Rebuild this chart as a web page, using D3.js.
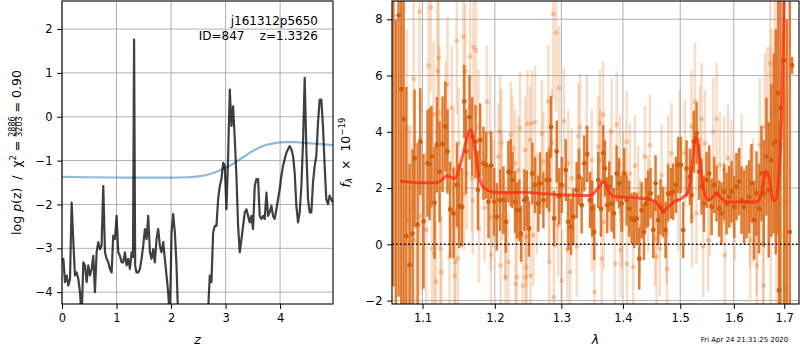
<!DOCTYPE html>
<html>
<head>
<meta charset="utf-8">
<script src="https://cdn.jsdelivr.net/npm/d3@7"></script>
<style>
  body { margin: 0; background: #fff; }
  svg text { font-family: "DejaVu Sans", sans-serif; fill: #000; }
</style>
</head>
<body>
<svg id="fig" width="800" height="350"></svg>
<script>
// ---------------- redshift probability panel ----------------
const zGrid = [0.010,0.025,0.055,0.086,0.116,0.147,0.177,0.208,0.238,0.269,0.299,0.330,0.360,0.391,0.421,0.452,0.482,0.513,0.543,0.574,0.604,0.635,0.665,0.696,0.726,0.757,0.788,0.818,0.849,0.879,0.910,0.940,0.971,1.001,1.032,1.062,1.093,1.123,1.154,1.184,1.215,1.245,1.276,1.302,1.322,1.342,1.367,1.398,1.429,1.459,1.490,1.520,1.551,1.581,1.612,1.642,1.673,1.703,1.734,1.764,1.795,1.825,1.856,1.886,1.917,1.947,1.978,2.009,2.039,2.070,2.100,2.131,2.200,2.400,2.600,2.680,2.711,2.741,2.772,2.802,2.833,2.863,2.894,2.924,2.955,2.985,3.016,3.047,3.077,3.108,3.138,3.169,3.199,3.230,3.260,3.291,3.321,3.352,3.382,3.413,3.443,3.474,3.504,3.535,3.565,3.596,3.626,3.657,3.688,3.718,3.749,3.779,3.810,3.840,3.871,3.901,3.932,3.962,3.993,4.023,4.054,4.084,4.115,4.145,4.176,4.206,4.237,4.267,4.298,4.329,4.359,4.390,4.420,4.451,4.481,4.512,4.542,4.573,4.603,4.634,4.664,4.695,4.725,4.756,4.786,4.817,4.847,4.878,4.908,4.939,4.970];
const logPz = [-3.30,-3.24,-3.77,-3.62,-3.85,-3.70,-1.96,-2.86,-3.62,-3.55,-3.70,-4.00,-4.60,-3.32,-3.39,-3.77,-3.39,-3.62,-3.47,-3.17,-4.00,-3.09,-2.86,-3.02,-2.94,-1.58,-3.09,-3.24,-3.32,-3.47,-3.55,-2.71,-2.79,-2.26,-3.09,-3.17,-3.32,-3.32,-3.09,-3.39,-3.24,-3.47,-3.09,-3.20,1.76,-3.40,-3.55,-3.55,-3.47,-3.24,-2.94,-2.56,-2.79,-2.26,-3.09,-3.24,-3.02,-3.32,-2.79,-2.56,-2.94,-3.09,-2.86,-3.24,-3.62,-4.00,-4.60,-2.64,-2.22,-2.64,-3.39,-4.60,-6.00,-7.00,-6.00,-4.40,-3.62,-3.77,-2.64,-2.49,-2.49,-1.88,-1.58,-1.42,-1.05,-1.12,-2.11,-0.89,0.62,-0.21,0.24,-0.52,-1.35,-2.49,-3.09,-2.79,-2.49,-2.18,-2.11,-2.26,-2.41,-2.26,-2.56,-1.58,-1.42,-1.42,-2.26,-2.33,-2.26,-2.33,-1.73,-2.26,-2.18,-2.03,-2.26,-2.33,-2.11,-1.88,-1.65,-1.35,-1.12,-0.97,-0.82,-0.74,-0.67,-0.74,-0.89,-1.27,-2.03,-2.41,-2.18,-1.58,-0.59,0.89,-0.74,-1.88,-2.18,-2.18,-1.50,-1.12,-0.89,-0.14,0.39,0.39,-0.21,-1.12,-1.88,-1.99,-1.80,-1.88,-1.96];
const zPrior   = [0, 0.5, 1.0, 1.5, 2.0, 2.3, 2.5, 2.7, 2.9, 3.1, 3.3, 3.5, 3.7, 3.9, 4.1, 4.3, 4.5, 4.7, 4.97];
const logPrior = [-1.37,-1.38,-1.385,-1.39,-1.39,-1.38,-1.36,-1.31,-1.22,-1.10,-0.94,-0.78,-0.66,-0.60,-0.58,-0.58,-0.60,-0.62,-0.645];
const zTicks  = [0, 1, 2, 3, 4];
const pzTicks = [-4, -3, -2, -1, 0, 1, 2];

// ---------------- spectrum panel ----------------
const darkWave = [1.0621,1.0652,1.0687,1.0722,1.0752,1.0787,1.0830,1.0869,1.0895,1.0935,
1.0970,1.1013,1.1066,1.1095,1.1119,1.1160,1.1192,1.1228,1.1268,1.1305,
1.1336,1.1372,1.1418,1.1465,1.1496,1.1534,1.1566,1.1590,1.1640,1.1677,
1.1724,1.1758,1.1790,1.1837,1.1876,1.1909,1.1947,1.1990,1.2029,1.2077,
1.2125,1.2160,1.2198,1.2232,1.2256,1.2296,1.2321,1.2360,1.2385,1.2434,
1.2470,1.2504,1.2554,1.2595,1.2645,1.2671,1.2722,1.2774,1.2813,1.2840,
1.2886,1.2928,1.2968,1.3006,1.3069,1.3110,1.3152,1.3189,1.3242,1.3279,
1.3322,1.3364,1.3411,1.3456,1.3493,1.3525,1.3591,1.3634,1.3672,1.3701,
1.3738,1.3771,1.3811,1.3850,1.3895,1.3934,1.3979,1.4023,1.4063,1.4106,
1.4147,1.4192,1.4233,1.4278,1.4319,1.4359,1.4393,1.4433,1.4474,1.4520,
1.4561,1.4606,1.4649,1.4695,1.4738,1.4784,1.4832,1.4873,1.4922,1.4963,
1.5011,1.5054,1.5115,1.5175,1.5206,1.5249,1.5298,1.5346,1.5390,1.5433,
1.5483,1.5532,1.5577,1.5625,1.5670,1.5719,1.5764,1.5814,1.5860,1.5909,
1.5955,1.6006,1.6052,1.6103,1.6149,1.6200,1.6247,1.6297,1.6344,1.6395,
1.6442,1.6493,1.6541,1.6586,1.6640,1.6686,1.6740,1.6787,1.6827,1.6874,
1.6895,1.6923,1.6997,1.7052,1.7113,1.7161];
const darkFlux = [10.5,-3.0,8.14,5.52,4.46,0.29,-0.73,0.38,3.06,0.70,
3.65,0.82,2.88,2.85,3.12,1.48,3.54,2.58,3.56,4.19,
3.30,1.24,1.10,2.11,1.36,1.32,5.08,3.30,4.52,3.83,
3.65,1.93,3.71,2.88,2.82,1.51,2.80,1.51,0.98,1.57,
1.57,0.80,2.58,2.55,2.29,1.51,1.21,1.21,0.38,1.57,
1.63,0.56,2.52,2.11,1.45,2.17,1.57,2.29,2.29,4.17,
0.92,3.30,1.71,2.11,2.64,0.80,0.62,0.98,1.93,2.40,
1.39,2.88,3.21,1.57,1.27,0.44,2.29,1.27,3.24,2.70,
1.39,2.05,1.45,1.10,2.52,2.17,1.45,2.52,1.57,1.27,
0.92,0.86,0.92,-0.51,1.21,0.44,1.45,1.63,1.81,0.51,
2.17,0.86,1.33,1.15,0.51,1.81,1.81,1.87,2.11,2.82,
2.82,0.51,2.70,2.40,1.75,3.65,3.95,2.58,2.05,1.45,
2.29,2.52,1.33,2.11,1.81,1.27,1.10,1.87,1.45,1.69,
1.87,1.33,2.05,2.23,1.57,1.33,1.51,1.69,2.17,0.86,
1.81,1.27,2.52,1.81,3.12,1.93,2.99,3.59,3.65,5.38,
-1.64,4.85,6.54,-4.0,0.44,6.36];
const darkErr = [12,11,10,8,7,5.3,3.6,3.0,2.45,2.9,
1.9,2.4,1.9,2.0,1.8,2.0,1.7,1.8,1.7,1.6,
1.5,1.7,1.6,1.5,1.5,1.4,1.3,1.5,1.5,1.4,
1.3,1.4,1.3,1.3,1.2,1.3,1.2,1.2,1.2,1.1,
1.2,1.1,1.1,1.2,1.0,1.1,1.0,1.1,1.0,1.1,
1.0,1.0,1.1,1.0,1.0,1.1,1.0,1.0,1.1,1.1,
1.0,1.1,1.0,1.0,1.1,1.0,1.0,1.0,1.0,1.0,
1.0,1.0,1.0,1.0,1.0,1.0,1.0,1.0,1.0,1.0,
1.0,0.9,1.0,0.9,1.0,0.9,1.0,0.9,0.9,1.0,
0.9,1.0,0.9,1.1,1.0,1.0,0.9,1.0,0.9,1.0,
1.0,0.9,1.0,0.9,1.0,1.0,0.9,1.0,1.0,1.0,
1.0,1.0,1.0,1.0,1.0,1.1,1.1,1.0,1.0,1.0,
1.0,1.0,1.0,1.0,1.0,1.0,1.1,1.0,1.1,1.1,
1.1,1.1,1.2,1.2,1.2,1.3,1.3,1.3,1.4,1.4,
1.5,1.6,1.7,1.9,2.1,2.4,2.7,3.2,4.0,5.0,
6.0,7.0,9.0,12,12,0.3];

const lightWave = [1.0796,1.0817,1.0839,1.0882,1.0891,1.0960,1.0970,1.1049,1.1080,1.1111,
1.1125,1.1147,1.1156,1.1179,1.1200,1.1214,1.1223,1.1237,1.1251,1.1314,
1.1336,1.1363,1.1395,1.1418,1.1431,1.1441,1.1464,1.1478,1.1486,1.1556,
1.1566,1.1580,1.1603,1.1649,1.1673,1.1684,1.1696,1.1730,1.1766,1.1773,
1.1851,1.1886,1.1933,1.1940,1.1947,1.1981,1.2053,1.2077,1.2084,1.2092,
1.2102,1.2150,1.2157,1.2197,1.2232,1.2262,1.2296,1.2303,1.2321,1.2345,
1.2370,1.2410,1.2445,1.2452,1.2460,1.2470,1.2479,1.2519,1.2527,1.2545,
1.2569,1.2595,1.2621,1.2697,1.2722,1.2798,1.2806,1.2813,1.2824,1.2850,
1.2875,1.2883,1.2917,1.2928,1.2953,1.2964,1.3006,1.3042,1.3094,1.3109,
1.3136,1.3163,1.3243,1.3269,1.3295,1.3403,1.3484,1.3489,1.3529,1.3591,
1.3618,1.3626,1.3646,1.3672,1.3681,1.3783,1.3811,1.3867,1.3895,1.3950,
1.3958,1.3979,1.4005,1.4063,1.4071,1.4118,1.4175,1.4204,1.4261,1.4290,
1.4376,1.4433,1.4462,1.4550,1.4579,1.4637,1.4667,1.4755,1.4764,1.4784,
1.4844,1.4963,1.4993,1.5084,1.5206,1.5215,1.5267,1.5298,1.5358,1.5390,
1.5420,1.5451,1.5513,1.5544,1.5606,1.5670,1.5732,1.5814,1.5827,1.5890,
1.5955,1.6019,1.6148,1.6310,1.6320,1.6375,1.6442,1.6452,1.6507,1.6573,
1.6583,1.6607,1.6653,1.6706,1.6716,1.6726,1.6741,1.6808,1.6842,1.7011,
1.7021];
const lightFlux = [4.13,0.88,1.24,5.88,0.15,8.27,1.00,0.51,6.36,8.42,
-0.15,4.61,-0.33,-1.32,6.16,6.63,4.67,-0.15,-0.99,4.19,
5.68,-0.45,4.85,2.70,-1.11,-0.63,7.23,-0.51,3.59,7.38,
1.79,6.15,2.52,6.67,2.34,1.55,7.01,6.89,4.19,0.54,
1.29,5.06,3.97,0.96,-0.37,1.81,3.12,4.01,-0.75,3.61,
2.05,0.51,-1.17,-0.63,3.89,3.40,2.88,-1.41,-1.17,2.64,
4.13,-1.47,3.35,-1.17,0.27,-0.81,4.29,3.71,-1.11,4.29,
0.33,4.35,1.45,3.93,2.94,5.08,1.21,-0.63,3.40,3.61,
8.20,-1.88,7.52,1.69,0.68,5.56,-1.29,4.37,-0.20,2.88,
-0.99,2.34,-0.08,3.85,4.17,4.13,2.99,0.86,-1.69,3.47,
4.31,2.99,-0.51,4.61,0.80,2.34,4.01,-0.69,4.25,2.82,
-0.20,0.86,2.23,3.65,-0.69,2.52,-0.81,2.80,1.81,0.62,
3.12,1.45,3.53,0.20,-0.45,-0.15,2.46,0.38,-0.87,2.82,
3.24,1.57,3.59,3.24,4.19,0.98,5.08,1.10,3.71,4.46,
-0.08,3.59,0.15,1.39,4.01,4.46,2.82,2.64,-0.38,3.06,
2.52,1.33,2.64,1.33,0.15,1.57,0.38,-0.75,3.53,0.02,
-1.46,4.19,4.31,4.25,6.43,0.33,4.67,5.56,0.38,1.51,
-1.56];
const lightErr = [3.5,3.2,3.0,3.5,3.0,3.5,2.8,2.8,3.2,3.0,
2.6,2.6,2.4,2.2,2.8,2.6,2.4,2.2,2.0,2.3,
2.4,2.0,2.2,2.1,2.0,1.9,2.6,1.9,2.0,2.6,
2.0,2.4,2.0,2.4,1.9,1.9,2.4,2.3,2.0,1.9,
1.9,2.0,2.0,1.9,1.8,1.9,1.9,2.0,1.8,1.9,
1.9,1.8,1.8,1.8,1.9,1.9,1.9,1.8,1.8,1.9,
2.0,1.8,1.9,1.8,1.8,1.8,1.9,1.9,1.8,1.9,
1.8,2.0,1.8,1.9,1.8,2.0,1.8,1.8,1.9,1.9,
3.0,1.8,2.8,1.8,1.8,2.2,1.8,1.9,1.8,1.9,
1.8,1.8,1.8,1.9,1.9,1.9,1.8,1.8,1.8,1.8,
1.9,1.8,1.8,1.9,1.7,1.8,1.9,1.7,1.9,1.8,
1.7,1.7,1.8,1.8,1.7,1.8,1.7,1.8,1.7,1.7,
1.8,1.7,1.8,1.7,1.7,1.7,1.8,1.8,1.7,1.8,
1.8,1.8,1.9,1.9,2.0,1.8,2.1,1.8,1.9,2.0,
1.8,1.9,1.8,1.8,1.9,2.0,1.9,1.9,1.8,1.9,
1.9,1.9,2.0,2.1,2.1,2.2,2.2,2.2,2.4,2.4,
2.5,2.6,2.7,2.8,3.0,2.8,3.0,3.2,3.2,4.0,
4.0];

const modelWave = [1.0709,1.0839,1.1013,1.1192,1.1258,1.1324,1.1392,1.1437,1.1482,1.1529,1.1575,1.1621,1.1659,1.1696,1.1733,1.1765,1.1814,1.1885,1.1981,1.2174,1.2419,1.2671,1.2927,1.3189,1.3456,1.3564,1.3646,1.3689,1.3727,1.3783,1.3894,1.4118,1.4347,1.4550,1.4637,1.4695,1.4784,1.4903,1.5024,1.5145,1.5206,1.5267,1.5298,1.5358,1.5420,1.5513,1.5606,1.5670,1.5764,1.5860,1.6115,1.6442,1.6541,1.6627,1.6693,1.6773,1.6827,1.6874,1.6923,1.6964,1.6997,1.7022];
const modelFlux = [2.25,2.21,2.19,2.19,2.29,2.43,2.38,2.34,2.58,3.00,3.48,3.95,4.07,3.71,3.12,2.52,2.11,1.93,1.86,1.83,1.85,1.81,1.77,1.75,1.74,1.93,2.17,2.25,2.05,1.81,1.69,1.67,1.63,1.53,1.33,1.17,1.33,1.53,1.63,1.87,2.70,3.71,3.83,2.99,2.05,1.57,1.69,1.81,1.63,1.51,1.51,1.51,1.81,2.58,2.40,1.57,1.57,2.05,3.35,5.73,8.80,11.0];

const waveTicks = [1.1, 1.2, 1.3, 1.4, 1.5, 1.6, 1.7];
const fluxTicks = [-2, 0, 2, 4, 6, 8];
const stamp = "Fri Apr 24 21:31:25 2020";

// ---------------- layout ----------------
const svg = d3.select("#fig");
const PL = {x0: 62, x1: 333, y0: 1, y1: 304};
const PR = {x0: 392, x1: 799, y0: 1, y1: 304};
const GRID = "#b0b0b0";
const TICKFS = 11.5;
const TICKLEN = 4.9, TICKPAD = 4.6;

const xz = d3.scaleLinear().domain([0, 4.97]).range([PL.x0, PL.x1]);
const yz = d3.scaleLinear().domain([-4.27, 2.64]).range([PL.y1, PL.y0]);
const xw = d3.scaleLog().domain([1.0603, 1.7305]).range([PR.x0, PR.x1]);
const yf = d3.scaleLinear().domain([-2.12, 8.65]).range([PR.y1, PR.y0]);

const defs = svg.append("defs");
function clip(id, p) {
  defs.append("clipPath").attr("id", id).append("rect")
    .attr("x", p.x0).attr("y", p.y0).attr("width", p.x1 - p.x0).attr("height", p.y1 - p.y0);
  return "url(#" + id + ")";
}
const clipL = clip("clipL", PL), clipR = clip("clipR", PR);

function grid(p, xs, ys, xv, yv) {
  const g = svg.append("g").attr("stroke", GRID).attr("stroke-width", 1);
  g.append("g").selectAll("line").data(xv).join("line")
    .attr("x1", d => xs(d)).attr("x2", d => xs(d)).attr("y1", p.y0).attr("y2", p.y1);
  g.append("g").selectAll("line").data(yv).join("line")
    .attr("y1", d => ys(d)).attr("y2", d => ys(d)).attr("x1", p.x0).attr("x2", p.x1);
}
function styleAxis(g) {
  g.select(".domain").remove();
  g.selectAll(".tick line").attr("stroke", "#000").attr("stroke-width", 1);
  g.selectAll(".tick text").attr("font-size", TICKFS).attr("font-family", "DejaVu Sans").attr("fill", "#000");
}
function axes(p, xs, ys, xv, yv, xfmt, yfmt) {
  svg.append("g").attr("transform", `translate(0,${p.y1})`)
    .call(d3.axisBottom(xs).tickValues(xv).tickFormat(xfmt).tickSize(TICKLEN).tickPadding(TICKPAD))
    .call(styleAxis);
  svg.append("g").attr("transform", `translate(${p.x0},0)`)
    .call(d3.axisLeft(ys).tickValues(yv).tickFormat(yfmt).tickSize(TICKLEN).tickPadding(TICKPAD))
    .call(styleAxis);
  svg.append("rect").attr("x", p.x0).attr("y", p.y0)
    .attr("width", p.x1 - p.x0).attr("height", p.y1 - p.y0)
    .attr("fill", "none").attr("stroke", "#000").attr("stroke-width", 1.1);
}

// ---------------- left: p(z) ----------------
grid(PL, xz, yz, zTicks, pzTicks);
const gL = svg.append("g").attr("clip-path", clipL);
gL.append("path")
  .datum(d3.zip(zPrior, logPrior))
  .attr("d", d3.line().x(d => xz(d[0])).y(d => yz(d[1])).curve(d3.curveMonotoneX))
  .attr("fill", "none").attr("stroke", "#1f77b4").attr("stroke-opacity", 0.5).attr("stroke-width", 2.2);
gL.append("path")
  .datum(d3.zip(zGrid, logPz))
  .attr("d", d3.line().x(d => xz(d[0])).y(d => yz(d[1])))
  .attr("fill", "none").attr("stroke", "#000").attr("stroke-opacity", 0.75)
  .attr("stroke-width", 2.2).attr("stroke-linejoin", "round");
axes(PL, xz, yz, zTicks, pzTicks, d3.format("d"), d3.format("d"));

svg.append("text").attr("x", 318).attr("y", 24.5).attr("text-anchor", "end")
  .attr("font-size", 12).text("j161312p5650");
svg.append("text").attr("x", 318).attr("y", 39.5).attr("text-anchor", "end")
  .attr("font-size", 12).style("white-space", "pre").text("ID=847    z=1.3326");

// ---------------- right: spectrum ----------------
grid(PR, xw, yf, waveTicks, fluxTicks);
const gR = svg.append("g").attr("clip-path", clipR);
const ORANGE = "#e8731c";
const light = d3.range(lightWave.length).map(i => ({w: lightWave[i], f: lightFlux[i], e: lightErr[i]}));
const dark  = d3.range(darkWave.length).map(i => ({w: darkWave[i], f: darkFlux[i], e: darkErr[i]}));

gR.append("g").selectAll("line").data(light).join("line")
  .attr("x1", d => xw(d.w)).attr("x2", d => xw(d.w))
  .attr("y1", d => yf(d.f - d.e)).attr("y2", d => yf(d.f + d.e))
  .attr("stroke", ORANGE).attr("stroke-opacity", 0.25).attr("stroke-width", 2.5);
gR.append("g").selectAll("circle").data(light).join("circle")
  .attr("cx", d => xw(d.w)).attr("cy", d => yf(d.f)).attr("r", 2.4)
  .attr("fill", ORANGE).attr("fill-opacity", 0.35);

gR.append("g").selectAll("line").data(dark).join("line")
  .attr("x1", d => xw(d.w)).attr("x2", d => xw(d.w))
  .attr("y1", d => yf(d.f - d.e)).attr("y2", d => yf(d.f + d.e))
  .attr("stroke", "#dd6e1e").attr("stroke-opacity", 0.9).attr("stroke-width", 2.5);
gR.append("g").selectAll("circle").data(dark).join("circle")
  .attr("cx", d => xw(d.w)).attr("cy", d => yf(d.f)).attr("r", 2.4)
  .attr("fill", "#d45f0a");

gR.append("path")
  .datum(d3.zip(modelWave, modelFlux))
  .attr("d", d3.line().x(d => xw(d[0])).y(d => yf(d[1])).curve(d3.curveMonotoneX))
  .attr("fill", "none").attr("stroke", "#ff2a12").attr("stroke-opacity", 0.75)
  .attr("stroke-width", 3).attr("stroke-linejoin", "round");

gR.append("line").attr("x1", PR.x0).attr("x2", PR.x1).attr("y1", yf(0)).attr("y2", yf(0))
  .attr("stroke", "#000").attr("stroke-width", 1.5).attr("stroke-dasharray", "1.5,2.5");

axes(PR, xw, yf, waveTicks, fluxTicks, d3.format(".1f"), d3.format("d"));

// ---------------- axis labels ----------------
svg.append("text").attr("x", (PL.x0 + PL.x1) / 2).attr("y", 344).attr("text-anchor", "middle")
  .attr("font-size", 12.5).attr("font-style", "italic").text("z");
svg.append("text").attr("x", (PR.x0 + PR.x1) / 2).attr("y", 344).attr("text-anchor", "middle")
  .attr("font-size", 12.5).attr("font-style", "italic").text("λ");

svg.append("text").attr("x", 744.5).attr("y", 341.5).attr("text-anchor", "middle")
  .attr("font-size", 7).text(stamp);

// left y label: log p(z) / chi^2 = 2886/3203 = 0.90
(function () {
  const fs = 12.5, ff = 8;
  const g = svg.append("g");
  const t1 = g.append("text").attr("font-size", fs).style("white-space", "pre");
  t1.append("tspan").text("log ");
  t1.append("tspan").attr("font-style", "italic").text("p");
  t1.append("tspan").text("(z)  /  χ");
  t1.append("tspan").attr("font-size", ff).attr("dy", -4.8).text("2");
  t1.append("tspan").attr("dy", 4.8).text(" = ");
  const w1 = t1.node().getComputedTextLength();
  const num = g.append("text").attr("font-size", ff).attr("x", w1).attr("y", -5.8).text("2886");
  const wf = num.node().getComputedTextLength();
  g.append("text").attr("font-size", ff).attr("x", w1).attr("y", 1.8).text("3203");
  g.append("line").attr("x1", w1).attr("x2", w1 + wf).attr("y1", -4.5).attr("y2", -4.5)
    .attr("stroke", "#000").attr("stroke-width", 0.7);
  const t3 = g.append("text").attr("font-size", fs).attr("x", w1 + wf).style("white-space", "pre").text(" = 0.90");
  const total = w1 + wf + t3.node().getComputedTextLength();
  g.attr("transform", `translate(20.5,${(PL.y0 + PL.y1) / 2 + total / 2}) rotate(-90)`);
})();

// right y label: f_lambda x 10^-19
(function () {
  const fs = 12.5, fss = 8.6;
  const t = svg.append("text").attr("font-size", fs).attr("text-anchor", "middle")
    .style("white-space", "pre")
    .attr("transform", `translate(349.5,${(PR.y0 + PR.y1) / 2}) rotate(-90)`);
  t.append("tspan").attr("font-style", "italic").text("f");
  t.append("tspan").attr("font-style", "italic").attr("font-size", fss).attr("dy", 2.6).text("λ");
  t.append("tspan").attr("dy", -2.6).text("  ×  10");
  t.append("tspan").attr("font-size", fss).attr("dy", -5).text("−19");
})();
</script>
</body>
</html>
